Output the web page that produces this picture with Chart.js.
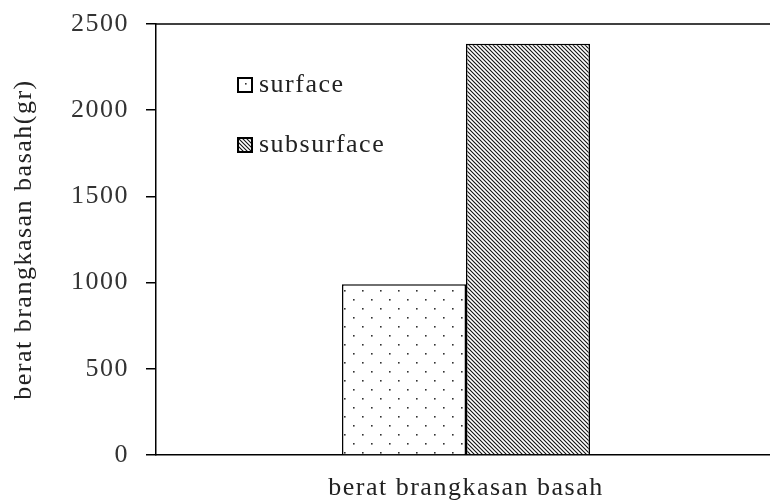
<!DOCTYPE html>
<html>
<head>
<meta charset="utf-8">
<script src="https://cdn.jsdelivr.net/npm/chart.js"></script>
<style>
  html, body { margin: 0; padding: 0; background: #fff; overflow: hidden; }
  #wrap { width: 770px; height: 504px; overflow: hidden; }
  #wrap div { width: 782px; height: 504px; }
</style>
</head>
<body>
<div id="wrap"><div><canvas id="chart"></canvas></div></div>
<script>
    // data
    const categories = ["berat brangkasan basah"];
    const seriesNames = ["surface", "subsurface"];
    const surfaceValues = [990];
    const subsurfaceValues = [2385];
    const yTicks = [0, 500, 1000, 1500, 2000, 2500];

    const FONT = "'Liberation Serif', 'Times New Roman', serif";
    const SPACING = "1.5px";

    function dotPattern() {
        let c = document.createElement("canvas");
        c.width = 18; c.height = 18;
        let g = c.getContext("2d");
        g.fillStyle = "#fff";
        g.fillRect(0, 0, 18, 18);
        g.fillStyle = "#333";
        g.fillRect(2, 2, 1.6, 1.6);
        g.fillRect(11, 11, 1.6, 1.6);
        return g.createPattern(c, "repeat");
    }

    function hatchPattern() {
        let s = 4;
        let c = document.createElement("canvas");
        c.width = s; c.height = s;
        let g = c.getContext("2d");
        g.fillStyle = "#fff";
        g.fillRect(0, 0, s, s);
        g.strokeStyle = "#111";
        g.lineWidth = 1.1;
        g.beginPath();
        g.moveTo(-1, -1); g.lineTo(s + 1, s + 1);
        g.moveTo(-1, s - 1); g.lineTo(1, s + 1);
        g.moveTo(s - 1, -1); g.lineTo(s + 1, 1);
        g.stroke();
        return g.createPattern(c, "repeat");
    }

    const fills = [dotPattern(), hatchPattern()];

    // wide letter spacing like the reference text
    const spacing = {
        id: "spacing",
        beforeDraw(chart) {
            chart.ctx.letterSpacing = SPACING;
        }
    };

    // legend inside plot + top frame line
    const extras = {
        id: "extras",
        afterDraw(chart) {
            let ctx = chart.ctx;
            let a = chart.chartArea;
            ctx.save();
            ctx.strokeStyle = "#000";
            ctx.lineWidth = 1.5;
            ctx.beginPath();
            ctx.moveTo(a.left, a.top);
            ctx.lineTo(a.right, a.top);
            ctx.stroke();

            let rows = [85, 145];
            seriesNames.forEach(function (name, i) {
                let y = rows[i];
                ctx.fillStyle = fills[i];
                ctx.fillRect(238, y - 7, 14, 14);
                ctx.strokeStyle = "#000";
                ctx.lineWidth = 2;
                ctx.strokeRect(238, y - 7, 14, 14);
                ctx.fillStyle = "#222";
                ctx.font = "26px " + FONT;
                ctx.letterSpacing = SPACING;
                ctx.textBaseline = "middle";
                ctx.textAlign = "left";
                ctx.fillText(name, 259, y);
            });
            ctx.restore();
        }
    };

    let ctx = document.getElementById("chart").getContext("2d");
    let chart = new Chart(ctx, {
        type: "bar",
        data: {
            labels: categories,
            datasets: [{
                label: seriesNames[0],
                data: surfaceValues,
                backgroundColor: fills[0],
                borderColor: "#000",
                borderWidth: 1.5,
                borderSkipped: "bottom"
            }, {
                label: seriesNames[1],
                data: subsurfaceValues,
                backgroundColor: fills[1],
                borderColor: "#000",
                borderWidth: 1.5,
                borderSkipped: "bottom"
            }]
        },
        options: {
            responsive: true,
            maintainAspectRatio: false,
            animation: false,
            layout: { padding: { top: 24, left: 0, right: 6, bottom: 0 } },
            datasets: { bar: { categoryPercentage: 0.4, barPercentage: 1 } },
            plugins: {
                legend: { display: false },
                tooltip: { enabled: false }
            },
            scales: {
                x: {
                    grid: { display: false, drawTicks: false },
                    border: { display: true, color: "#000", width: 1.5 },
                    ticks: { display: false },
                    title: {
                        display: true,
                        text: categories[0],
                        color: "#222",
                        font: { family: FONT, size: 26 },
                        padding: { top: 0, bottom: 0 }
                    },
                    afterFit(scale) { scale.height = 49; }
                },
                y: {
                    min: 0,
                    max: 2500,
                    afterBuildTicks(scale) {
                        scale.ticks = yTicks.map(function (v) { return { value: v }; });
                    },
                    grid: {
                        drawOnChartArea: false,
                        drawTicks: true,
                        tickLength: 10,
                        color: "#000",
                        lineWidth: 1.5
                    },
                    border: { display: true, color: "#000", width: 1.5 },
                    ticks: {
                        color: "#333",
                        padding: 17,
                        font: { family: FONT, size: 26 },
                        callback: function (v) { return String(v); }
                    },
                    title: {
                        display: true,
                        text: "berat brangkasan basah(gr)",
                        color: "#222",
                        font: { family: FONT, size: 26 },
                        padding: { top: 9, bottom: 0 }
                    },
                    afterFit(scale) {
                        scale.width = 156;
                        scale.paddingTop = 0;
                    }
                }
            }
        },
        plugins: [spacing, extras]
    });
</script>
</body>
</html>
